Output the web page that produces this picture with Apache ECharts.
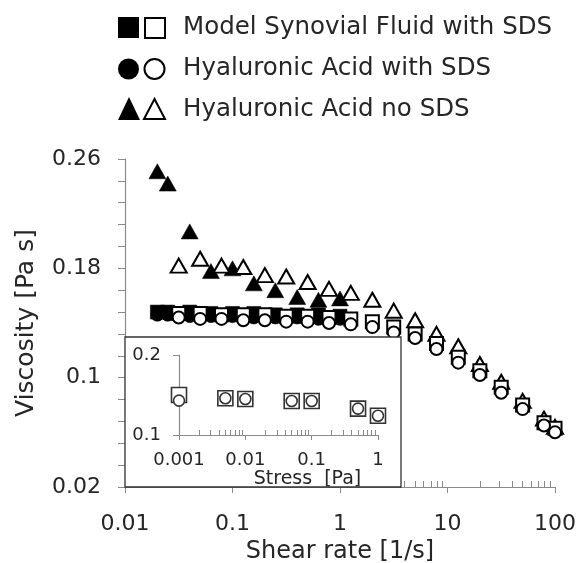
<!DOCTYPE html>
<html>
<head>
<meta charset="utf-8">
<script src="https://cdn.jsdelivr.net/npm/echarts@6/dist/echarts.min.js"></script>
<style>
html,body{margin:0;padding:0;background:#fff;}
#chart{width:577px;height:563px;}
</style>
</head>
<body>
<div id="chart"></div>
<script>
// ---- Data ----
const seriesNames = ['Model Synovial Fluid with SDS', 'Hyaluronic Acid with SDS', 'Hyaluronic Acid no SDS'];

// shear rates [1/s]
const shearFilled = [0.02, 0.025, 0.04, 0.063, 0.1, 0.158, 0.25, 0.4, 0.63, 1.0];
const shearOpen = [0.0316, 0.05, 0.079, 0.126, 0.2, 0.316, 0.5, 0.79, 1.26, 2, 3.16, 5, 7.9, 12.6, 20, 31.6, 50, 79, 100];

// viscosity [Pa s]
const msfFilled = [0.148, 0.148, 0.148, 0.147, 0.147, 0.147, 0.146, 0.146, 0.146, 0.145];
const haSdsFilled = [0.146, 0.146, 0.145, 0.145, 0.145, 0.144, 0.144, 0.144, 0.143, 0.143];
const haNoSdsFilled = [0.251, 0.242, 0.207, 0.178, 0.180, 0.169, 0.164, 0.159, 0.157, 0.158];

const msfOpen = [0.147, 0.147, 0.146, 0.146, 0.146, 0.145, 0.145, 0.144, 0.143, 0.141, 0.137, 0.132, 0.125, 0.115, 0.105, 0.093, 0.080, 0.067, 0.063];
const haSdsOpen = [0.144, 0.143, 0.143, 0.142, 0.142, 0.141, 0.141, 0.140, 0.139, 0.137, 0.133, 0.129, 0.121, 0.111, 0.102, 0.089, 0.077, 0.065, 0.060];
const haNoSdsOpen = [0.182, 0.187, 0.182, 0.181, 0.175, 0.174, 0.170, 0.165, 0.162, 0.157, 0.149, 0.142, 0.132, 0.123, 0.110, 0.097, 0.083, 0.070, 0.064];

// inset: viscosity vs stress [Pa]
const stress = [0.001, 0.005, 0.01, 0.05, 0.1, 0.5, 1];
const insetMsf = [0.150, 0.146, 0.145, 0.1425, 0.1425, 0.133, 0.124];
const insetHa = [0.143, 0.146, 0.145, 0.1425, 0.1425, 0.133, 0.124];

// tick labels
const yTicksMain = [0.02, 0.1, 0.18, 0.26];
const xTicksMain = [0.01, 0.1, 1, 10, 100];
const yTicksInset = [0.1, 0.2];
const xTicksInset = [0.001, 0.01, 0.1, 1];

// ---- helpers ----
function logMinorTicks(lo, hi) {
  const out = [];
  for (let d = lo; d < hi * 0.999; d *= 10) {
    for (let k = 2; k <= 9; k++) out.push(+(d * k).toPrecision(6));
  }
  return out;
}
const pair = (xs, ys) => xs.map((x, i) => [x, ys[i]]);
const fmt = v => String(+(+v).toPrecision(6));

const FONT = '"DejaVu Sans", "Liberation Sans", Arial, sans-serif';
const TXT = '#262626';
const AX = '#8a8a8a';
const INK = '#000';

const chart = echarts.init(document.getElementById('chart'), null, {renderer: 'canvas'});

function filled(name, sym, size, data) {
  return {
    type: 'scatter', name, xAxisIndex: 0, yAxisIndex: 0, data,
    symbol: sym, symbolSize: size, z: 2,
    itemStyle: {color: INK, borderColor: INK, borderWidth: 0.5, opacity: 1}
  };
}
function open(name, sym, size, data) {
  return {
    type: 'scatter', name, xAxisIndex: 0, yAxisIndex: 0, data,
    symbol: sym, symbolSize: size, z: 3,
    itemStyle: {color: '#fff', borderColor: INK, borderWidth: 2, opacity: 1}
  };
}

const option = {
  backgroundColor: '#fff',
  animation: false,
  textStyle: {fontFamily: FONT},
  grid: [
    {left: 125, right: 22, top: 159, bottom: 76, containLabel: false, outerBoundsMode: 'none'},
    {left: 179, right: 199, top: 355, bottom: 128, containLabel: false, outerBoundsMode: 'none'}
  ],
  xAxis: [
    {
      type: 'log', logBase: 10, gridIndex: 0, position: 'bottom', min: 0.01, max: 100,
      axisLine: {show: true, lineStyle: {color: AX, width: 1.2}},
      axisTick: {show: true, inside: false, length: 6, customValues: xTicksMain, lineStyle: {color: AX}},
      axisLabel: {show: true, customValues: xTicksMain, formatter: fmt, color: TXT, fontSize: 22, fontFamily: FONT, margin: 26},
      splitLine: {show: false},
      name: 'Shear rate [1/s]', nameLocation: 'middle', nameGap: 53,
      nameTextStyle: {color: TXT, fontSize: 24, fontFamily: FONT}
    },
    {
      type: 'log', logBase: 10, gridIndex: 0, position: 'bottom', min: 0.01, max: 100,
      axisLine: {show: false},
      axisTick: {show: true, inside: true, length: 6, customValues: logMinorTicks(0.01, 100), lineStyle: {color: AX}},
      axisLabel: {show: false},
      splitLine: {show: false}
    },
    {
      type: 'log', logBase: 10, gridIndex: 1, position: 'bottom', min: 0.001, max: 1, z: 11,
      axisLine: {show: true, lineStyle: {color: AX, width: 1.2}},
      axisTick: {show: true, inside: false, length: 5, customValues: xTicksInset, lineStyle: {color: AX}},
      axisLabel: {show: true, customValues: xTicksInset, formatter: fmt, color: TXT, fontSize: 18, fontFamily: FONT, margin: 16},
      splitLine: {show: false},
      name: 'Stress  [Pa]', nameLocation: 'middle', nameGap: 35,
      nameTextStyle: {color: TXT, fontSize: 19, fontFamily: FONT, padding: [0, 0, 0, 58]}
    },
    {
      type: 'log', logBase: 10, gridIndex: 1, position: 'bottom', min: 0.001, max: 1, z: 11,
      axisLine: {show: false},
      axisTick: {show: true, inside: true, length: 5, customValues: logMinorTicks(0.001, 1), lineStyle: {color: AX}},
      axisLabel: {show: false},
      splitLine: {show: false}
    }
  ],
  yAxis: [
    {
      type: 'value', gridIndex: 0, position: 'left', min: 0.02, max: 0.26, interval: 0.08,
      axisLine: {show: true, lineStyle: {color: AX, width: 1.2}},
      axisTick: {show: true, inside: false, length: 7, lineStyle: {color: AX}},
      minorTick: {show: true, splitNumber: 5, length: 7, lineStyle: {color: AX}},
      axisLabel: {show: true, formatter: v => String(+(+v).toFixed(2)), color: TXT, fontSize: 22, fontFamily: FONT, margin: 24},
      splitLine: {show: false},
      name: 'Viscosity [Pa s]', nameLocation: 'middle', nameGap: 86,
      nameTextStyle: {color: TXT, fontSize: 25, fontFamily: FONT}
    },
    {
      type: 'value', gridIndex: 1, position: 'left', min: 0.1, max: 0.2, interval: 0.1, z: 11,
      axisLine: {show: true, lineStyle: {color: AX, width: 1.2}},
      axisTick: {show: true, inside: false, length: 6, lineStyle: {color: AX}},
      axisLabel: {show: true, formatter: v => String(+(+v).toFixed(1)), color: TXT, fontSize: 18, fontFamily: FONT, margin: 18},
      splitLine: {show: false}
    }
  ],
  graphic: [
    // inset panel
    {type: 'rect', z: 10, shape: {x: 125, y: 337, width: 276, height: 150},
     style: {fill: '#fff', stroke: '#333', lineWidth: 1.3}},
    // legend row 1 (squares)
    {type: 'rect', z: 20, shape: {x: 118, y: 17, width: 21, height: 21}, style: {fill: INK}},
    {type: 'rect', z: 20, shape: {x: 145, y: 18, width: 20, height: 20}, style: {fill: '#fff', stroke: INK, lineWidth: 2}},
    {type: 'text', z: 20, x: 183, y: 28, style: {text: seriesNames[0], font: '24.5px ' + FONT, fill: TXT, verticalAlign: 'middle'}},
    // legend row 2 (circles)
    {type: 'circle', z: 20, shape: {cx: 128.5, cy: 69, r: 10.5}, style: {fill: INK}},
    {type: 'circle', z: 20, shape: {cx: 154.5, cy: 69, r: 10}, style: {fill: '#fff', stroke: INK, lineWidth: 2}},
    {type: 'text', z: 20, x: 183, y: 69, style: {text: seriesNames[1], font: '24.5px ' + FONT, fill: TXT, verticalAlign: 'middle'}},
    // legend row 3 (triangles)
    {type: 'polygon', z: 20, shape: {points: [[129, 97], [118, 120], [140, 120]]}, style: {fill: INK}},
    {type: 'polygon', z: 20, shape: {points: [[154.5, 99], [144, 119], [165, 119]]}, style: {fill: '#fff', stroke: INK, lineWidth: 2}},
    {type: 'text', z: 20, x: 183, y: 110, style: {text: seriesNames[2], font: '24.5px ' + FONT, fill: TXT, verticalAlign: 'middle'}}
  ],
  series: [
    filled(seriesNames[2], 'triangle', [17, 15], pair(shearFilled, haNoSdsFilled)),
    filled(seriesNames[0], 'rect', 14, pair(shearFilled, msfFilled)),
    filled(seriesNames[1], 'circle', 13, pair(shearFilled, haSdsFilled)),
    open(seriesNames[2], 'triangle', [16, 14], pair(shearOpen, haNoSdsOpen)),
    open(seriesNames[0], 'rect', 13, pair(shearOpen, msfOpen)),
    open(seriesNames[1], 'circle', 12, pair(shearOpen, haSdsOpen)),
    {
      type: 'scatter', name: seriesNames[0] + ' (inset)', xAxisIndex: 2, yAxisIndex: 1,
      data: pair(stress, insetMsf), symbol: 'rect', symbolSize: 15, z: 12,
      itemStyle: {color: '#fff', borderColor: '#333', borderWidth: 1.6, opacity: 1}
    },
    {
      type: 'scatter', name: seriesNames[1] + ' (inset)', xAxisIndex: 2, yAxisIndex: 1,
      data: pair(stress, insetHa), symbol: 'circle', symbolSize: 11, z: 13,
      itemStyle: {color: '#fff', borderColor: '#333', borderWidth: 1.6, opacity: 1}
    }
  ]
};
chart.setOption(option);
</script>
</body>
</html>
